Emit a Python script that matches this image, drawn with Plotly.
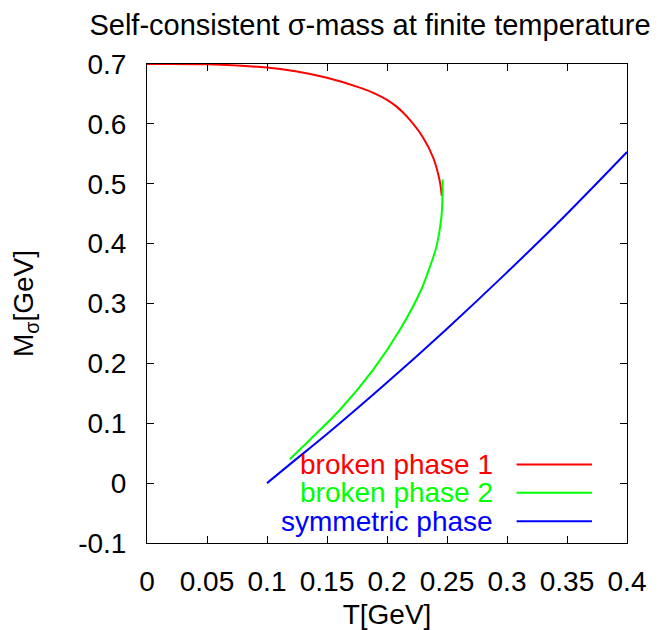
import plotly.graph_objects as go

# Data
T_broken1 = [0.0, 0.05, 0.1, 0.125, 0.15, 0.178, 0.19, 0.2, 0.208, 0.2165, 0.23, 0.2386, 0.244, 0.2456]
M_broken1 = [0.7, 0.6995, 0.694, 0.6875, 0.677, 0.6602, 0.6506, 0.640, 0.6288, 0.6124, 0.5773, 0.543, 0.504, 0.480]

T_broken2 = [0.119, 0.136, 0.161, 0.1887, 0.211, 0.2285, 0.2355, 0.2412, 0.2454, 0.2464]
M_broken2 = [0.040, 0.073, 0.123, 0.190, 0.257, 0.323, 0.360, 0.395, 0.4455, 0.507]

T_sym = [0.1, 0.12, 0.15, 0.2, 0.25, 0.3, 0.35, 0.4]
M_sym = [0.0, 0.033, 0.082, 0.168, 0.258, 0.352, 0.450, 0.553]

names = ["broken phase 1", "broken phase 2", "symmetric phase"]
colors = ["#ff0000", "#00ff00", "#0000ff"]

x_ticks = [0, 0.05, 0.1, 0.15, 0.2, 0.25, 0.3, 0.35, 0.4]
x_ticktext = ["0", "0.05", "0.1", "0.15", "0.2", "0.25", "0.3", "0.35", "0.4"]
y_ticks = [-0.1, 0, 0.1, 0.2, 0.3, 0.4, 0.5, 0.6, 0.7]
y_ticktext = ["-0.1", "0", "0.1", "0.2", "0.3", "0.4", "0.5", "0.6", "0.7"]

FONT = "Liberation Sans, Arial, Helvetica, sans-serif"
FS = 28
OFF = 8  # page body margin offset

fig = go.Figure()
for T, M, nm, c in zip([T_broken1, T_broken2, T_sym], [M_broken1, M_broken2, M_sym], names, colors):
    fig.add_trace(go.Scatter(x=T, y=M, mode="lines", name=nm,
                             line=dict(color=c, width=2, shape="spline", smoothing=1.0),
                             showlegend=False))

# gnuplot-style legend: text right-aligned, line sample to the right
leg_y = [0.1637, 0.1047, 0.0455]
for nm, c, yy in zip(names, colors, leg_y):
    fig.add_annotation(xref="paper", yref="paper", x=0.7248, y=yy, text=nm,
                       showarrow=False, xanchor="right", yanchor="middle",
                       font=dict(color=c, size=FS, family=FONT))
    fig.add_shape(type="line", xref="paper", yref="paper", x0=0.770, x1=0.927,
                  y0=yy, y1=yy, line=dict(color=c, width=2))

axis_common = dict(showline=True, linecolor="black", linewidth=1, mirror="ticks",
                   ticks="inside", ticklen=7, tickcolor="black", tickwidth=1,
                   showgrid=False, zeroline=False, automargin=False,
                   tickfont=dict(size=FS, family=FONT, color="black"))

fig.update_xaxes(range=[0, 0.4], tickvals=x_ticks, ticktext=x_ticktext,
                 ticklabelstandoff=13,
                 title=dict(text="T[GeV]", font=dict(size=FS, family=FONT, color="black"), standoff=8),
                 **axis_common)
fig.update_yaxes(range=[-0.1, 0.7], tickvals=y_ticks, ticktext=y_ticktext,
                 ticklabelstandoff=14,
                 title=dict(text="M<sub>σ</sub>[GeV]", font=dict(size=FS, family=FONT, color="black"), standoff=36),
                 **axis_common)

fig.update_layout(
    width=664, height=630,
    margin=dict(l=146.5 - OFF, r=36.7 + OFF, t=64 - OFF, b=86.5 + OFF),
    paper_bgcolor="white", plot_bgcolor="white",
    title=dict(text="Self-consistent σ-mass at finite temperature",
               xref="container", x=(370 - OFF) / 664, xanchor="center",
               yref="container", y=1 - (25 - OFF) / 630, yanchor="middle",
               font=dict(size=29, family=FONT, color="black")),
    font=dict(family=FONT, color="black"),
)

fig.write_html("out.html")
